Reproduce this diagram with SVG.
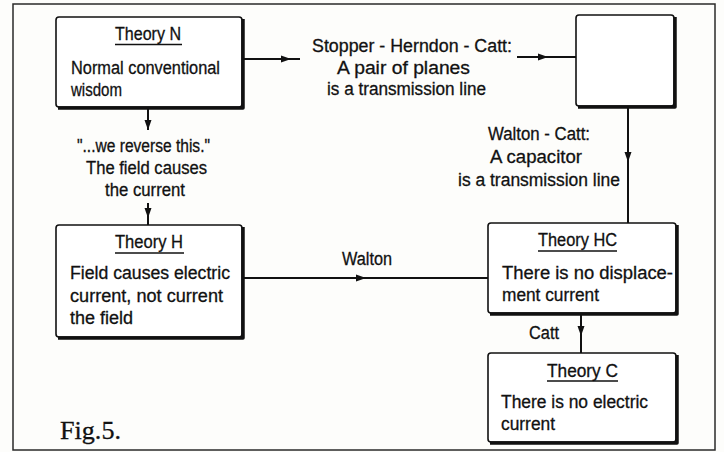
<svg xmlns="http://www.w3.org/2000/svg" width="724" height="452" viewBox="0 0 724 452">
  <style>
    .bg { fill: #fdfdfb; }
    .frame { fill: none; stroke: #2a2a2a; stroke-width: 1.5; }
    .box { fill: #ffffff; stroke: #111; stroke-width: 1.6; }
    .shadow { fill: none; stroke: #111; stroke-width: 3.5; stroke-linejoin: round; }
    .conn { fill: none; stroke: #111; stroke-width: 2; }
    .t { font-family: "Liberation Sans", Arial, sans-serif; font-size: 18px; fill: #111; stroke: #111; stroke-width: 0.3; }
    .ul { stroke: #111; stroke-width: 1.5; }
    .fig { font-family: "Liberation Serif", "Times New Roman", serif; font-size: 26px; fill: #111; stroke: #111; stroke-width: 0.3; }
  </style>
  <defs>
    <marker id="ah" viewBox="0 0 10 8" refX="10" refY="4" markerWidth="10" markerHeight="8" markerUnits="userSpaceOnUse" orient="auto">
      <path d="M0,0.5 L10,4 L0,7.5 z" fill="#111"/>
    </marker>
  </defs>

  <rect class="bg" x="0" y="0" width="724" height="452"/>
  <rect class="frame" x="13" y="4" width="702" height="446"/>

  <g id="connectors">
    <path class="conn" d="M242,59 L291,59 L300,59" marker-mid="url(#ah)"/>
    <path class="conn" d="M517,57 L548,57 L576,57" marker-mid="url(#ah)"/>
    <path class="conn" d="M628,107 L628,162 L628,223" marker-mid="url(#ah)"/>
    <path class="conn" d="M148,108 L148,130" marker-end="url(#ah)"/>
    <path class="conn" d="M148,203 L148,218 L148,225" marker-mid="url(#ah)"/>
    <path class="conn" d="M242,278 L366,278 L488,278" marker-mid="url(#ah)"/>
    <path class="conn" d="M581,313 L581,336 L581,353" marker-mid="url(#ah)"/>
  </g>

  <g id="label-stopper">
    <text class="t" x="312" y="52" textLength="200" lengthAdjust="spacingAndGlyphs">Stopper - Herndon - Catt:</text>
    <text class="t" x="337" y="74" textLength="133" lengthAdjust="spacingAndGlyphs">A pair of planes</text>
    <text class="t" x="327" y="95" textLength="159" lengthAdjust="spacingAndGlyphs">is a transmission line</text>
  </g>

  <g id="label-walton-catt">
    <text class="t" x="488" y="140" textLength="102" lengthAdjust="spacingAndGlyphs">Walton - Catt:</text>
    <text class="t" x="490" y="163" textLength="92" lengthAdjust="spacingAndGlyphs">A capacitor</text>
    <text class="t" x="458" y="186" textLength="162" lengthAdjust="spacingAndGlyphs">is a transmission line</text>
  </g>

  <g id="label-reverse">
    <text class="t" x="77" y="152" textLength="133" lengthAdjust="spacingAndGlyphs">"...we reverse this."</text>
    <text class="t" x="86" y="174" textLength="121" lengthAdjust="spacingAndGlyphs">The field causes</text>
    <text class="t" x="105" y="196" textLength="80" lengthAdjust="spacingAndGlyphs">the current</text>
  </g>

  <g id="label-walton">
    <text class="t" x="342" y="265" textLength="50" lengthAdjust="spacingAndGlyphs">Walton</text>
  </g>

  <g id="label-catt">
    <text class="t" x="529" y="339" textLength="30" lengthAdjust="spacingAndGlyphs">Catt</text>
  </g>

  <g id="theory-n">
    <rect class="box" x="56" y="17" width="186" height="90" rx="3"/>
    <path class="shadow" d="M243,19 L243,108 L58,108"/>
    <text class="t" x="115" y="40" textLength="66" lengthAdjust="spacingAndGlyphs">Theory N</text>
    <line class="ul" x1="115" y1="44.5" x2="182" y2="44.5"/>
    <text class="t" x="71" y="74" textLength="149" lengthAdjust="spacingAndGlyphs">Normal conventional</text>
    <text class="t" x="71" y="96" textLength="51" lengthAdjust="spacingAndGlyphs">wisdom</text>
  </g>

  <g id="unnamed-box">
    <rect class="box" x="576" y="15" width="98" height="91" rx="3"/>
    <path class="shadow" d="M675,17 L675,107 L578,107"/>
  </g>

  <g id="theory-h">
    <rect class="box" x="56" y="225" width="186" height="112" rx="3"/>
    <path class="shadow" d="M243,227 L243,338 L58,338"/>
    <text class="t" x="115" y="248" textLength="68" lengthAdjust="spacingAndGlyphs">Theory H</text>
    <line class="ul" x1="115" y1="253" x2="184" y2="253"/>
    <text class="t" x="70" y="279" textLength="160" lengthAdjust="spacingAndGlyphs">Field causes electric</text>
    <text class="t" x="70" y="302" textLength="153" lengthAdjust="spacingAndGlyphs">current, not current</text>
    <text class="t" x="70" y="324" textLength="63" lengthAdjust="spacingAndGlyphs">the field</text>
  </g>

  <g id="theory-hc">
    <rect class="box" x="488" y="223" width="188" height="90" rx="3"/>
    <path class="shadow" d="M677,225 L677,314 L490,314"/>
    <text class="t" x="538" y="246" textLength="79" lengthAdjust="spacingAndGlyphs">Theory HC</text>
    <line class="ul" x1="538" y1="251" x2="617" y2="251"/>
    <text class="t" x="502" y="279" textLength="171" lengthAdjust="spacingAndGlyphs">There is no displace-</text>
    <text class="t" x="502" y="301" textLength="97" lengthAdjust="spacingAndGlyphs">ment current</text>
  </g>

  <g id="theory-c">
    <rect class="box" x="488" y="353" width="188" height="89" rx="3"/>
    <path class="shadow" d="M677,355 L677,443 L490,443"/>
    <text class="t" x="547" y="377" textLength="71" lengthAdjust="spacingAndGlyphs">Theory C</text>
    <line class="ul" x1="547" y1="381" x2="618" y2="381"/>
    <text class="t" x="501" y="408" textLength="147" lengthAdjust="spacingAndGlyphs">There is no electric</text>
    <text class="t" x="501" y="430" textLength="54" lengthAdjust="spacingAndGlyphs">current</text>
  </g>

  <text class="fig" x="60" y="439" textLength="61" lengthAdjust="spacingAndGlyphs">Fig.5.</text>
</svg>
